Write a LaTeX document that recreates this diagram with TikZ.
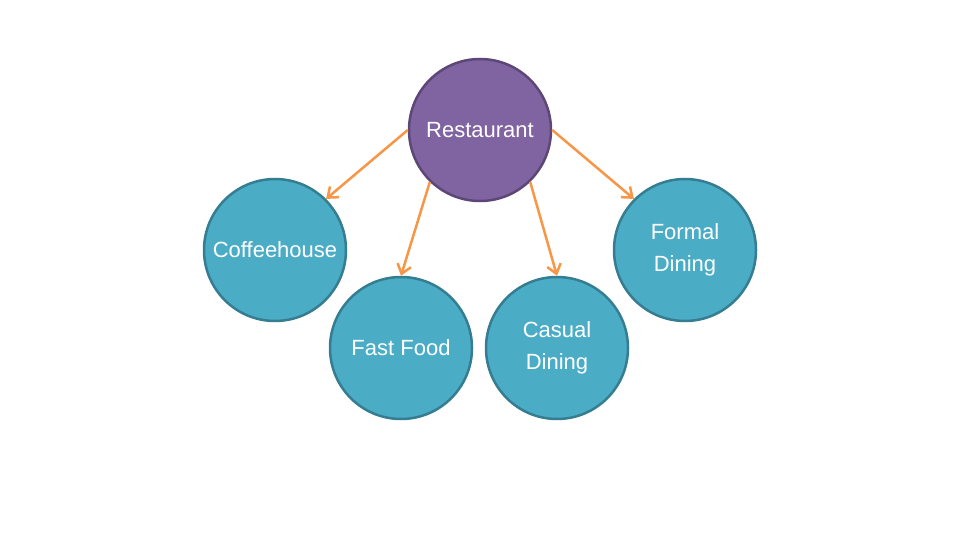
\documentclass[tikz,border=0pt]{standalone}
\usepackage{fontspec}
\setmainfont{Liberation Sans}
\usetikzlibrary{arrows.meta}
\definecolor{purp}{HTML}{8064A2}
\definecolor{purpd}{HTML}{5C4776}
\definecolor{teal}{HTML}{4BACC6}
\definecolor{teald}{HTML}{357D91}
\definecolor{orng}{HTML}{F79646}
\begin{document}
\begin{tikzpicture}[x=1pt,y=-1pt,
  bubble/.style={circle,minimum size=142pt,inner sep=0pt,line width=2.5pt,draw=teald,fill=teal,text=white,font=\fontsize{22}{32}\selectfont,align=center},
  rootbubble/.style={bubble,draw=purpd,fill=purp},
  link/.style={draw=orng,line width=2.5pt,-{Straight Barb[length=9pt,width=14pt,line width=2.5pt]}}]
\useasboundingbox (0,0) rectangle (960,540);
\node[rootbubble] (rest) at (480,130) {Restaurant};
\node[bubble] (coffee) at (275,250) {Coffeehouse};
\node[bubble] (fast) at (401,348) {Fast Food};
\node[bubble] (casual) at (557,348) {Casual\\Dining};
\node[bubble] (formal) at (685,250) {Formal\\Dining};
\draw[link] (rest.180) -- (coffee.45);
\draw[link] (rest.-134) -- (fast.90);
\draw[link] (rest.-46) -- (casual.90);
\draw[link] (rest.0) -- (formal.135);
\end{tikzpicture}
\end{document}
